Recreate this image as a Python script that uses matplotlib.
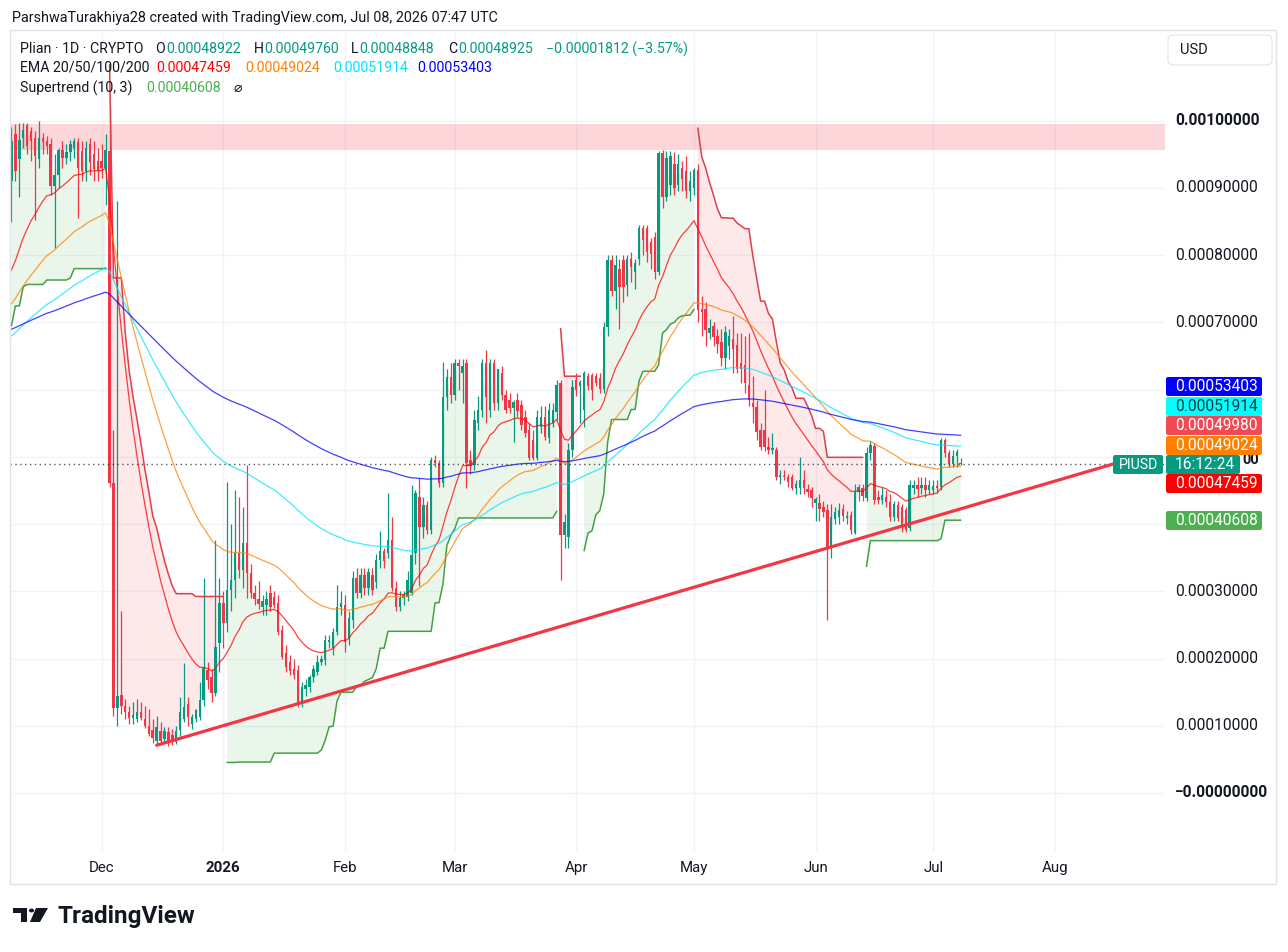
import numpy as np
import matplotlib
matplotlib.use("Agg")
import matplotlib.pyplot as plt
import matplotlib.dates as mdates
from matplotlib.patches import Rectangle, FancyBboxPatch, Circle, Polygon
from matplotlib.transforms import blended_transform_factory

plt.rcParams["font.family"] = ["Roboto", "DejaVu Sans"]

# prices below are in units of 1e-5 USD, one (open, high, low, close) per day
UNIT = 1e-5
START = "2025-11-08"

nov = [
    (91, 99, 85, 97), (98, 99.5, 91, 92.5), (94.3, 99.7, 88.7, 97.2), (97.5, 99.7, 96, 98.6),
    (99.4, 99.7, 95, 96.2), (98.5, 99, 94, 97), (97.5, 98.5, 85.3, 94.7), (94.3, 100, 93, 97.5),
    (97.5, 98.2, 95, 96.8), (97, 97.8, 95, 96.2), (96.6, 97.5, 89, 90.3), (90.3, 95, 81, 92),
    (92, 96, 90, 95.7), (95.7, 97, 93, 94.4), (94.5, 96.5, 93.5, 95.3), (95.3, 97.2, 94, 96.5),
    (96, 97.5, 94.5, 97), (96.8, 97.5, 85.6, 93), (95.5, 97, 91, 92.5), (92.5, 97, 91, 96),
    (96.6, 97.5, 92, 93.8), (95, 97, 91, 92.8), (94, 96, 91, 92.5),
]
dec = [
    (94, 96.5, 91.5, 93), (93, 98, 87.5, 95.7), (95.5, 102, 45.5, 46.1), (46.1, 54, 11.5, 12.6),
    (12.6, 88, 10, 14.5), (14.6, 27, 11.8, 12.9), (12.9, 14, 11, 12.1), (12.1, 13, 10.3, 11.1),
    (11.1, 13.5, 10.2, 11.6), (11, 14, 10.5, 12.1), (12, 13.5, 10.8, 11.2), (11, 13, 9.6, 10),
    (10, 12.5, 8.5, 8.8), (9.3, 11, 7.5, 8.2), (7.8, 11.5, 7.3, 9.8), (9.2, 10.5, 7.3, 7.8),
    (8, 9.8, 7.5, 9.2), (9, 9.8, 7, 7.4), (8.6, 9.5, 7.2, 7.6), (7.6, 10, 7.3, 9.2),
    (9.4, 14.3, 8.5, 12), (11, 19.3, 10.5, 12.8), (13.3, 14.3, 10, 11.3), (10.2, 11.8, 9.5, 11.3),
    (11, 12.5, 10.5, 12.3), (11.3, 16.5, 10.8, 13.8), (13.8, 32, 13, 18.6), (18.3, 19.5, 15.5, 16.8),
    (17.2, 18.5, 13.5, 14.9), (14.9, 37.6, 14.5, 21.7), (22.3, 32, 18, 28.3),
]
jan = [
    (28.3, 30, 21.5, 25.3), (25.3, 46.3, 24, 30.2), (30.2, 40, 27, 31.7), (31.7, 45, 29, 35.7),
    (35.7, 44, 32, 33.2), (33.2, 42.5, 30.5, 37.2), (37.2, 48.8, 29, 32.7), (32.7, 34, 29, 29.8),
    (29.8, 31, 28, 28.8), (28.8, 31.5, 27.3, 28.1), (27.6, 29.5, 26.5, 28.5), (27.9, 30, 26.5, 28.8),
    (29.8, 31, 27, 27.6), (29.2, 30, 27.5, 28), (28.3, 29.5, 23.5, 24), (24.3, 25, 20, 20.2),
    (20.8, 22, 18, 18.8), (19.5, 20.5, 17.5, 18.2), (18.5, 20, 17, 17.5), (18.3, 19, 12.8, 13.4),
    (13.4, 16.5, 12.8, 15.8), (15.5, 17, 14.5, 16), (15.8, 17.5, 15, 17.2), (17.2, 19, 16.5, 18.5),
    (18, 20.5, 17.5, 19.5), (19.5, 20.5, 19, 19.9), (19.8, 23.5, 19, 22.8), (22.5, 23.5, 21.5, 22.8),
    (21.6, 24.5, 20.5, 24), (24, 31, 23.5, 27.7), (27.7, 30, 26.5, 28.2),
]
feb = [
    (28, 29.5, 21, 22.5), (23, 27, 22, 26), (25.7, 33, 24.5, 32), (32, 33.5, 29, 29.8),
    (29.8, 33.5, 29, 32.5), (32.5, 33.5, 29.5, 30.5), (30.5, 33.5, 29.5, 32.9), (32.5, 33.5, 29.5, 30.2),
    (31.4, 35.5, 30.5, 34.7), (34.7, 39, 33.5, 36), (36, 36.5, 33.5, 34.5), (35.7, 44.6, 35, 37.6),
    (37.6, 41, 30, 30.5), (30.5, 31.5, 27, 27.7), (27.7, 30, 27, 29), (29, 30, 28, 29.5),
    (29.2, 33, 28.5, 31.7), (29.8, 45.8, 29.5, 35.4), (35.7, 45, 34, 44.6), (44, 46.9, 30.8, 39.6),
    (39.6, 44, 38, 42.9), (42.9, 43.5, 38.5, 39.1), (39.1, 50, 38.5, 49.6), (49.6, 50.3, 48.5, 49.1),
    (49.1, 49.6, 45.5, 46.1), (46.1, 64.1, 45.5, 58.9), (58.9, 63, 57, 61.9), (61.9, 64, 58, 59.2),
]
mar = [
    (59.2, 64.5, 58.5, 64), (64, 64.5, 60, 63.5), (62.5, 64.5, 58, 63.5), (64, 64.5, 45.4, 49.1),
    (49.5, 51, 47.5, 48.6), (48.8, 57, 48, 55.5), (55, 59, 54, 57), (57, 64.5, 56, 64),
    (64, 65.9, 55, 58.9), (57, 64.5, 56, 64), (64, 64.5, 57, 58), (58, 63, 57, 63),
    (62.5, 63.5, 58.5, 59.2), (59.2, 60, 56.5, 57), (58.5, 59.5, 56.5, 57.2), (57.2, 58.5, 52.2, 58.2),
    (58.5, 59.5, 56, 56.8), (57.7, 58.5, 54, 54.8), (56, 57, 53, 53.6), (54, 55, 49.5, 49.9),
    (52.5, 54, 49.5, 49.9), (49.9, 57, 49.5, 56), (54.5, 57.5, 53.5, 56), (56, 57.5, 52.5, 53),
    (52.8, 58, 52, 57), (55, 58, 54.5, 57), (56.7, 61.5, 55.5, 60.7), (61, 61.5, 31.7, 38.4),
    (38.4, 41.5, 36.5, 40.3), (38.1, 52, 36.5, 51), (51, 61.5, 50, 60.4),
]
apr = [
    (61.5, 62.5, 59, 60), (60.5, 61.5, 55, 61.2), (57, 62.8, 54.5, 62.5), (62, 62.5, 60, 60.5),
    (62.2, 62.5, 58.5, 60), (62, 62.5, 60.5, 61), (61.8, 62.5, 59.5, 60.1), (60.1, 70, 59.5, 69.3),
    (69.3, 80, 68, 79.3), (79.3, 80, 74, 74.6), (74.6, 80, 72, 78.5), (78, 79.5, 69, 75.2),
    (79.3, 80, 73, 75.2), (75.5, 80, 74, 79.5), (79.5, 80.5, 76, 78.3), (77.5, 79.5, 75, 78.8),
    (79.5, 84.5, 78.5, 84), (84, 84.5, 80, 82.3), (84, 84.5, 79, 80.5), (82, 82.5, 78, 80.2),
    (82.7, 83.5, 76.5, 77.5), (77.5, 95.5, 77, 95.2), (95.2, 95.6, 87, 88.7), (88.7, 95.5, 88, 94.5),
    (90.5, 95.5, 89, 94.8), (93.5, 95.3, 89, 90), (90.5, 95, 89.5, 93.5), (93, 94, 89.5, 91.3),
    (92.5, 94.8, 88.5, 89.5), (89.5, 92.5, 88, 91),
]
may = [
    (90, 93, 89, 92.7), (92.7, 93.5, 70, 71.9), (72, 74, 68, 71.5), (72, 73, 66.5, 68.9),
    (68.5, 70.5, 67.5, 69.2), (69.4, 70, 66.5, 67.9), (68, 69, 65.5, 66.8), (67.1, 69, 63.5, 64.7),
    (64.7, 69.5, 63, 68.6), (66.5, 69, 64.5, 68), (67.5, 71, 62.5, 66), (66.7, 68.5, 62.5, 63),
    (64, 68.5, 61, 63), (63.7, 68, 59.5, 61), (60.7, 68.5, 57.5, 58.5), (58, 62, 55, 57.4),
    (57.4, 58.5, 52.5, 53.7), (54, 55, 51, 51.5), (54, 60, 50.8, 51.5), (51.5, 53, 50.5, 51),
    (51, 53.5, 50.5, 51.3), (51, 51.5, 46.5, 47), (47, 48, 46, 47.3), (47.2, 48, 46.5, 47),
    (47, 47.5, 45.5, 46.2), (47, 47.5, 45, 45.4), (45.4, 46.5, 44.5, 45.9), (45.4, 50, 44.5, 46.5),
    (46.6, 48, 44.5, 45.3), (45.2, 46, 44, 44.7), (45, 45.5, 42.5, 43.9),
]
jun = [
    (43.2, 44, 40.5, 43.7), (43.2, 44.5, 40.5, 42.2), (42.5, 43.5, 41, 41.8), (42.1, 43, 25.7, 36.6),
    (36.6, 43, 35, 41.1), (40.8, 42.5, 40, 41.8), (41.1, 43.2, 40, 42.1), (42.2, 43, 40.5, 41.2),
    (40.9, 42, 40, 41.2), (41.4, 42, 38.5, 39.1), (38.7, 46, 38.5, 44.8), (44.8, 46, 43.5, 45.5),
    (45.3, 46, 43.5, 44.2), (43.9, 51.5, 43.5, 50.6), (50.6, 52.3, 49.5, 51.8), (51.6, 52, 43, 43.6),
    (44, 45, 43, 43.6), (43.6, 45.5, 43, 44.3), (44.1, 45, 42.5, 43.3), (43.3, 44.5, 40.5, 41.1),
    (41.1, 43.5, 40.5, 43), (42.8, 43.5, 40.5, 40.9), (42.5, 43, 38.8, 39.6), (42.1, 42.5, 38.8, 39.1),
    (39.4, 46.5, 39, 45.8), (45.3, 46.5, 44.5, 45.8), (45.8, 47, 44, 45.2), (45.3, 47, 44.5, 45.8),
    (45.8, 47, 44, 45.1), (45.1, 46.5, 44.5, 45.8),
]
jul = [
    (45.1, 46.5, 44.5, 45.6), (45.6, 46.5, 44.8, 45.4), (45.5, 52.8, 45, 52.5), (52.5, 52.8, 50, 50.6),
    (50.6, 51, 48.5, 49), (48.9, 51, 48.5, 50.2), (50.2, 51.2, 48.5, 50.74),
    (48.922, 49.76, 48.848, 48.925),
]

ema_lengths = [20, 50, 100, 200]
ema_seeds = [77.8, 72.8, 68.0, 69.0]
ema_colors = ["#ff0000", "#ff8000", "#00e5ff", "#0000ff"]
atr_seed = 7.5

# drawn objects
zone_low, zone_high = 95.7, 99.55
trend_dates = ["2025-12-15", "2026-08-16"]
trend_prices = [7.1, 48.96]

month_dates = ["2025-12-01", "2026-01-01", "2026-02-01", "2026-03-01", "2026-04-01",
               "2026-05-01", "2026-06-01", "2026-07-01", "2026-08-01"]
month_labels = ["Dec", "2026", "Feb", "Mar", "Apr", "May", "Jun", "Jul", "Aug"]
price_ticks = [0, 10, 20, 30, 40, 50, 60, 70, 80, 90, 100]
# ticks whose label is hidden behind the price tags in the screenshot
hidden_ticks = [40, 50, 60]

UP, DOWN = "#089981", "#f23645"
TXT = "#131722"
W, H = 1288, 952


def fx(px):
    return px / W


def fy(py):
    return 1 - py / H


def ema(values, length, seed):
    a = 2 / (length + 1)
    out = np.empty(len(values))
    out[0] = seed
    for i in range(1, len(values)):
        out[i] = out[i - 1] + a * (values[i] - out[i - 1])
    return out


def supertrend(o, h, l, c, period, mult, seed):
    n = len(c)
    tr = np.empty(n)
    tr[0] = h[0] - l[0]
    tr[1:] = np.maximum.reduce([h[1:] - l[1:], np.abs(h[1:] - c[:-1]), np.abs(l[1:] - c[:-1])])
    atr = np.empty(n)
    atr[0] = seed
    for i in range(1, n):
        atr[i] = atr[i - 1] + (tr[i] - atr[i - 1]) / period
    hl2 = (h + l) / 2
    up = hl2 - mult * atr
    dn = hl2 + mult * atr
    trend = np.ones(n, dtype=int)
    for i in range(1, n):
        if c[i - 1] > up[i - 1]:
            up[i] = max(up[i], up[i - 1])
        if c[i - 1] < dn[i - 1]:
            dn[i] = min(dn[i], dn[i - 1])
        if trend[i - 1] == -1 and c[i] > dn[i - 1]:
            trend[i] = 1
        elif trend[i - 1] == 1 and c[i] < up[i - 1]:
            trend[i] = -1
        else:
            trend[i] = trend[i - 1]
    return np.where(trend == 1, up, dn), trend


candles = np.array(nov + dec + jan + feb + mar + apr + may + jun + jul) * UNIT
o, h, l, c = candles.T
dates = np.datetime64(START) + np.arange(len(candles))
xd = mdates.date2num(dates)
x_start = mdates.date2num(np.datetime64(START))

fig = plt.figure(figsize=(W / 100, H / 100), dpi=100)
ax = fig.add_axes([fx(10), fy(852), 1155 / W, 822 / H])
ax.set_xlim(x_start - 0.38, x_start + 294.1)
ax.set_ylim(-8.78 * UNIT, 113.5 * UNIT)
ax.set_xticks(mdates.date2num(np.array(month_dates, dtype="datetime64[D]")))
ax.set_yticks(np.array(price_ticks) * UNIT)
ax.grid(color="#f0f3fa", lw=1)
ax.set_axisbelow(True)
ax.tick_params(length=0, labelbottom=False, labelleft=False)
for s in ax.spines.values():
    s.set_visible(False)

# resistance zone
ax.axhspan(zone_low * UNIT, zone_high * UNIT, color="#f23645", alpha=0.2, lw=0, zorder=1)

# supertrend with fills to body middle
st, trend = supertrend(o, h, l, c, 10, 3, atr_seed * UNIT)
mid = (o + c) / 2
st_up = np.where(trend == 1, st, np.nan)
st_dn = np.where(trend == -1, st, np.nan)
ax.fill_between(xd, mid, st_up, where=trend == 1, color="#4caf50", alpha=0.11, lw=0, zorder=1.5)
ax.fill_between(xd, mid, st_dn, where=trend == -1, color="#f23645", alpha=0.11, lw=0, zorder=1.5)
ax.plot(xd, st_up, color="#43a047", lw=1.1, zorder=3)
ax.plot(xd, st_dn, color="#dd3f4b", lw=1.1, zorder=3)

# candles
col = np.where(c >= o, UP, DOWN)
ax.vlines(xd, l, h, colors=col, lw=0.9, zorder=2)
body = np.maximum(np.abs(c - o), 0.15 * UNIT)
ax.bar(xd, body, bottom=np.minimum(o, c), width=0.62, color=col, lw=0, zorder=2.1)

# EMAs
for n, seed, colr in zip(ema_lengths, ema_seeds, ema_colors):
    ax.plot(xd, ema(c, n, seed * UNIT), color=colr, lw=0.9, alpha=0.75, zorder=3)

# trendline and last price line
ax.plot(mdates.date2num(np.array(trend_dates, dtype="datetime64[D]")), np.array(trend_prices) * UNIT,
        color="#f23645", lw=2.3, solid_capstyle="round", zorder=6)
ax.axhline(c[-1], color="#2a2e39", lw=1, ls=(0, (1, 2.5)), alpha=0.8, zorder=4)

# outer frame
fig.patches.append(Rectangle((fx(10), fy(884)), 1266 / W, 854 / H, transform=fig.transFigure,
                             fill=False, edgecolor="#e0e3eb", lw=1, zorder=1))

# time axis labels
tx = blended_transform_factory(ax.transData, fig.transFigure)
for d, lab in zip(month_dates, month_labels):
    ax.text(mdates.date2num(np.datetime64(d)), fy(868), lab, transform=tx, ha="center", va="center",
            fontsize=10.8, color=TXT, fontweight="bold" if lab == "2026" else "normal", clip_on=False)

# price axis labels
ty = blended_transform_factory(fig.transFigure, ax.transData)
for v in price_ticks:
    if v in hidden_ticks:
        continue
    lab = "−0.00000000" if v == 0 else f"{v * UNIT:.8f}"
    fig.text(fx(1175), v * UNIT, lab, transform=ty, va="center", ha="left", fontsize=11.2, color=TXT,
             fontweight="bold" if v in (0, 100) else "normal", zorder=2)
# only the tail of the 0.00050000 label peeks out from behind the countdown tag
fig.text(fx(1242), fy(460), "00", va="center", ha="left", fontsize=10.5,
         color=TXT, fontweight="bold", zorder=2)

# stacked price tags on the axis
tag_text = ["0.00053403", "0.00051914", "0.00049980", "0.00049024", "0.00047459", "0.00040608"]
tag_face = ["#0000ff", "#00ffff", "#ef4a55", "#ff8000", "#ff0000", "#4caf50"]
tag_ink = ["white", "#0b3b3b", "white", "white", "white", "white"]
tag_top = [377, 397, 416, 436, 474, 511]


def tag(x0, x1, top, face, text, ink, tx0=None, size=11.2):
    fig.patches.append(FancyBboxPatch((fx(x0), fy(top + 19)), (x1 - x0) / W, 19 / H,
                                      boxstyle="round,pad=0,rounding_size=0.002",
                                      transform=fig.transFigure, facecolor=face, edgecolor="none",
                                      zorder=5))
    fig.text(fx(tx0 if tx0 is not None else x0 + 9), fy(top + 9.5), text, ha="left", va="center",
             fontsize=size, color=ink, zorder=6)


for t, f, k, top in zip(tag_text, tag_face, tag_ink, tag_top):
    tag(1166, 1262, top, f, t, k)
tag(1113, 1163, 455, UP, "PIUSD", "white", 1119, size=10.2)
tag(1166, 1240, 455, UP, "16:12:24", "white")

# currency button
fig.patches.append(FancyBboxPatch((fx(1168), fy(65)), 104 / W, 30 / H,
                                  boxstyle="round,pad=0,rounding_size=0.005",
                                  transform=fig.transFigure, facecolor="white",
                                  edgecolor="#e0e3eb", lw=0.8, zorder=5))
fig.text(fx(1180), fy(50), "USD", ha="left", va="center", fontsize=10.5, color=TXT, zorder=6)

# header
fig.text(fx(12), fy(18), "ParshwaTurakhiya28 created with TradingView.com, Jul 08, 2026 07:47 UTC",
         ha="left", va="center", fontsize=10.4, color=TXT)

legend_rows = [
    (49, [(20, "Plian · 1D · CRYPTO", TXT), (155, "O", TXT), (166, "0.00048922", UP),
          (254, "H", TXT), (264, "0.00049760", UP), (351, "L", TXT), (359.5, "0.00048848", UP),
          (448, "C", TXT), (458, "0.00048925", UP), (546, "−0.00001812 (−3.57%)", UP)]),
    (68, [(20, "EMA 20/50/100/200", TXT), (156, "0.00047459", "#ff0000"),
          (245, "0.00049024", "#ff8000"), (333, "0.00051914", "#00e5ff"),
          (417, "0.00053403", "#0000ff")]),
    (88, [(20, "Supertrend (10, 3)", TXT), (146, "0.00040608", "#4caf50"), (234, "⌀", TXT)]),
]
for y, runs in legend_rows:
    for px, text, colr in runs:
        fig.text(fx(px), fy(y), text, ha="left", va="center", fontsize=10.2, color=colr)

# TradingView logo
fig.patches.append(Polygon([(fx(13), fy(908)), (fx(27), fy(908)), (fx(27), fy(922)), (fx(21), fy(922)),
                            (fx(21), fy(913)), (fx(13), fy(913))], closed=True,
                           transform=fig.transFigure, facecolor="#131722", edgecolor="none"))
fig.patches.append(Circle((fx(31.5), fy(910.5)), 2.6 / W, transform=fig.transFigure,
                          facecolor="#131722", edgecolor="none"))
fig.patches.append(Polygon([(fx(36), fy(908)), (fx(48), fy(908)), (fx(40), fy(922)), (fx(30), fy(922))],
                           closed=True, transform=fig.transFigure, facecolor="#131722", edgecolor="none"))
fig.text(fx(58), fy(916), "TradingView", ha="left", va="center", fontsize=17.5, fontweight="bold",
         color="#131722")

fig.savefig("out.png", dpi=100, facecolor="white")
